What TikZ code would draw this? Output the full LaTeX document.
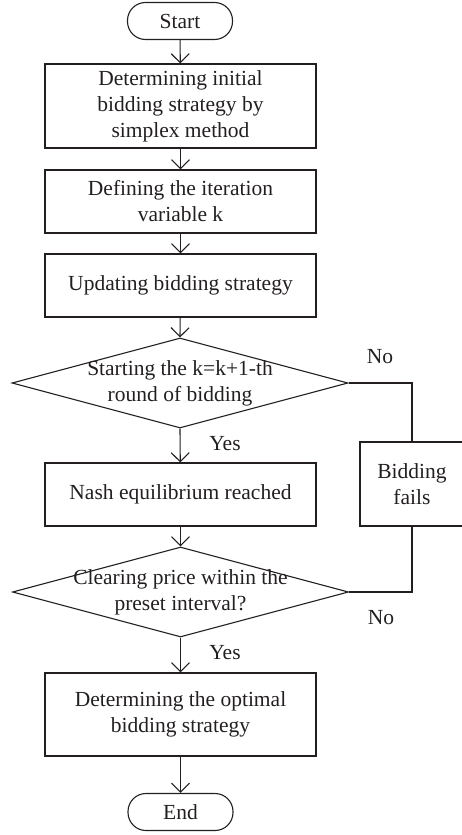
\documentclass[tikz,border=0pt]{standalone}
\usepackage{fontspec}
\setmainfont{Liberation Serif}
\usetikzlibrary{shapes.geometric,arrows.meta}
\definecolor{ink}{HTML}{231F20}
\begin{document}
\begin{tikzpicture}[x=1pt,y=-1pt,
  every node/.style={font=\fontsize{21.5}{26}\selectfont, text=ink},
  proc/.style={draw=ink, line width=1.1pt, rectangle, minimum width=271pt, align=center, inner sep=0pt},
  term/.style={draw=ink, line width=1.1pt, rectangle, rounded corners=18pt, minimum width=105pt, minimum height=37pt, inner sep=0pt},
  dec/.style={draw=ink, line width=1.1pt, diamond, minimum width=336pt, minimum height=90pt, inner sep=0pt},
  dectext/.style={align=center, inner sep=0pt},
  flow/.style={draw=ink, line width=1.1pt, -{Straight Barb[length=9pt,width=18pt]}},
  link/.style={draw=ink, line width=1.1pt},
  lbl/.style={inner sep=0pt}
]
\useasboundingbox (0,0) rectangle (461,835);
\node[term] (start) at (180,21) {Start};
\node[proc, minimum height=84pt] (b1) at (180.5,106) {Determining initial\\bidding strategy by\\simplex method};
\node[proc, minimum height=63pt] (b2) at (180.5,201.5) {Defining the iteration\\variable k};
\node[proc, minimum height=63pt] (b3) at (180.5,285.5) {Updating bidding strategy};
\node[dec] (d1) at (180,383) {};
\node[dectext] (d1t) at (180,383) {Starting the k=k+1-th\\round of bidding};
\node[proc, minimum height=63pt] (nash) at (180.5,494.5) {Nash equilibrium reached};
\node[dec] (d2) at (180.5,592) {};
\node[dectext] (d2t) at (180.5,592) {Clearing price within the\\preset interval?};
\node[proc, minimum height=83pt] (fin) at (180.5,714.5) {Determining the optimal\\bidding strategy};
\node[term] (end) at (180.5,812) {End};
\node[proc, minimum width=104pt, minimum height=84pt] (fail) at (412,484) {Bidding\\fails};
\node[lbl] (no1) at (380,357) {No};
\node[lbl] (no2) at (381,618) {No};
\node[lbl] (yes1) at (225,444) {Yes};
\node[lbl] (yes2) at (225,653) {Yes};
\draw[flow] (start) -- (b1);
\draw[flow] (b1) -- (b2);
\draw[flow] (b2) -- (b3);
\draw[flow] (b3) -- (d1.north);
\draw[flow] (d1.south) -- (nash);
\draw[flow] (nash) -- (d2.north);
\draw[flow] (d2.south) -- (fin);
\draw[flow] (fin) -- (end);
\draw[link] (d1.east) -| (fail.north);
\draw[link] (fail.south) |- (d2.east);
\end{tikzpicture}
\end{document}
